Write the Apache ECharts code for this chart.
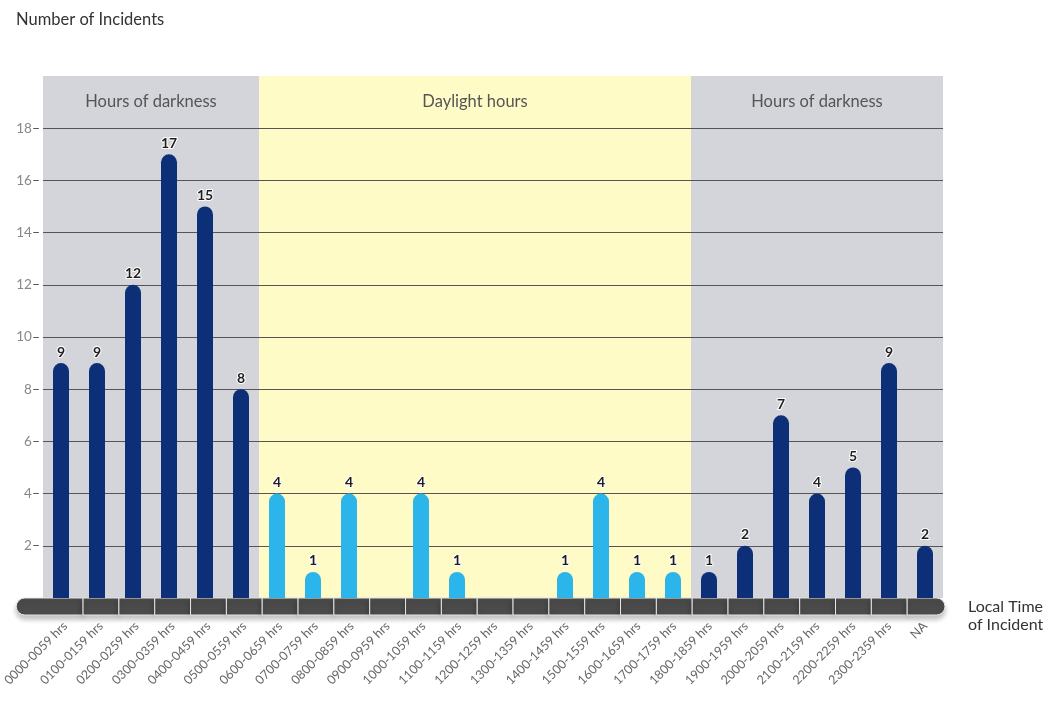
<!DOCTYPE html>
<html><head><meta charset="utf-8">
<script src="https://cdn.jsdelivr.net/npm/echarts@6/dist/echarts.min.js"></script>
<style>html,body{margin:0;padding:0;background:#fff;}#c{width:1051px;height:706px;}</style>
</head><body><div id="c"></div>
<script>
const categories = ['0000-0059 hrs','0100-0159 hrs','0200-0259 hrs','0300-0359 hrs','0400-0459 hrs','0500-0559 hrs',
  '0600-0659 hrs','0700-0759 hrs','0800-0859 hrs','0900-0959 hrs','1000-1059 hrs','1100-1159 hrs',
  '1200-1259 hrs','1300-1359 hrs','1400-1459 hrs','1500-1559 hrs','1600-1659 hrs','1700-1759 hrs',
  '1800-1859 hrs','1900-1959 hrs','2000-2059 hrs','2100-2159 hrs','2200-2259 hrs','2300-2359 hrs','NA'];
const incidents = [9,9,12,17,15,8, 4,1,4,0,4,1, 0,0,1,4,1,1, 1,2,7,4,5,9,2];
const period = ['dark','dark','dark','dark','dark','dark',
  'day','day','day','day','day','day','day','day','day','day','day','day',
  'dark','dark','dark','dark','dark','dark','dark'];
const periodLabels = {dark: 'Hours of darkness', day: 'Daylight hours'};
const yTicks = [2,4,6,8,10,12,14,16,18];
const yMax = 20;
const regionLabelValue = 19;

const FONT = 'Lato, "Open Sans", sans-serif';
const barColor = {dark: '#0c2f78', day: '#2bb5ea'};
const bgColor = {dark: '#d4d5da', day: '#fefbc6'};

const chart = echarts.init(document.getElementById('c'));
chart.setOption({
  animation: false,
  textStyle: {fontFamily: FONT},
  title: [
    {text: 'Number of Incidents', left: 11, top: 6, textStyle: {fontFamily: FONT, fontSize: 16.5, fontWeight: 'normal', color: '#333'}},
    {text: 'Local Time\nof Incident', left: 963, top: 593, textStyle: {fontFamily: FONT, fontSize: 16, fontWeight: 'normal', color: '#333', lineHeight: 18}}
  ],
  grid: [
    {left: 43, right: 108, top: 76, bottom: 108},
    {left: 43, right: 108, top: 598, height: 17}
  ],
  xAxis: [
    {type: 'category', gridIndex: 0, data: categories, axisLine: {show: false}, axisTick: {show: false}, axisLabel: {show: false}},
    {type: 'category', gridIndex: 0, data: categories, show: false},
    {type: 'category', gridIndex: 1, data: categories, axisLine: {show: false}, axisTick: {show: false},
     axisLabel: {interval: 0, rotate: 45, color: '#666', fontSize: 12.5, margin: 9, fontFamily: FONT}}
  ],
  yAxis: [
    {type: 'value', gridIndex: 0, min: 0, max: yMax, interval: 2,
     axisLine: {show: false},
     axisTick: {show: false, customValues: yTicks},
     axisLabel: {customValues: yTicks, margin: 3, fontFamily: FONT,
       formatter: v => '{n|' + v + '}{t|–}',
       rich: {n: {color: '#888', fontSize: 13.5, fontFamily: FONT}, t: {color: '#444', fontSize: 14, fontFamily: FONT}}},
     splitLine: {show: true, lineStyle: {color: '#555', width: 1}}},
    {type: 'value', gridIndex: 1, min: 0, max: 1, show: false}
  ],
  series: [
    {
      type: 'bar', name: 'bg', xAxisIndex: 1, yAxisIndex: 0, z: -1, silent: true,
      barWidth: '100%',
      data: categories.map((c, i) => ({value: yMax, itemStyle: {color: bgColor[period[i]]}}))
    },
    {
      type: 'bar', name: 'Incidents', xAxisIndex: 0, yAxisIndex: 0, barWidth: 16, z: 3,
      data: incidents.map((v, i) => ({value: v, itemStyle: {color: barColor[period[i]]}})),
      itemStyle: {borderRadius: [8, 8, 0, 0]},
      label: {show: true, position: 'top', distance: 4, fontWeight: 'bold', fontSize: 14, color: '#1e1e1e',
        fontFamily: FONT, textBorderColor: '#fff', textBorderWidth: 2,
        formatter: p => p.value ? String(p.value) : ''}
    },
    {
      type: 'custom', name: 'band', xAxisIndex: 2, yAxisIndex: 1, silent: true,
      data: categories.map((c, i) => [i]),
      encode: {x: 0},
      renderItem: function (params, api) {
        const i = api.value(0);
        const cs = params.coordSys;
        const c = api.coord([i, 0.5]);
        const w = api.size([1, 0])[0];
        const h = cs.height;
        let x0 = c[0] - w / 2, x1 = c[0] + w / 2;
        let r = [0, 0, 0, 0];
        if (i === 0) { x0 = cs.x - 31; r = [h / 2, 0, 0, h / 2]; }
        if (i === categories.length - 1) { x1 += 2; r = [0, h / 2, h / 2, 0]; }
        return {
          type: 'rect',
          shape: {x: x0, y: cs.y, width: x1 - x0, height: h, r: r},
          style: {fill: '#4b4b4b', stroke: '#e6e6e6', lineWidth: 1,
            shadowBlur: 5, shadowOffsetY: 4, shadowColor: 'rgba(0,0,0,0.25)'}
        };
      }
    }
  ]
});

// region labels centred over each run of same period
const groups = [];
period.forEach((p, i) => {
  if (groups.length && groups[groups.length - 1].p === p) groups[groups.length - 1].end = i;
  else groups.push({p: p, start: i, end: i});
});
const ly = chart.convertToPixel({yAxisIndex: 0}, regionLabelValue);
chart.setOption({
  graphic: groups.map(g => {
    const x0 = chart.convertToPixel({xAxisIndex: 0}, categories[g.start]);
    const x1 = chart.convertToPixel({xAxisIndex: 0}, categories[g.end]);
    return {type: 'text', x: (x0 + x1) / 2, y: ly, z: 10, silent: true,
      style: {text: periodLabels[g.p], fill: '#555', font: '16.5px ' + FONT, align: 'center', verticalAlign: 'middle'}};
  })
});
</script></body></html>
